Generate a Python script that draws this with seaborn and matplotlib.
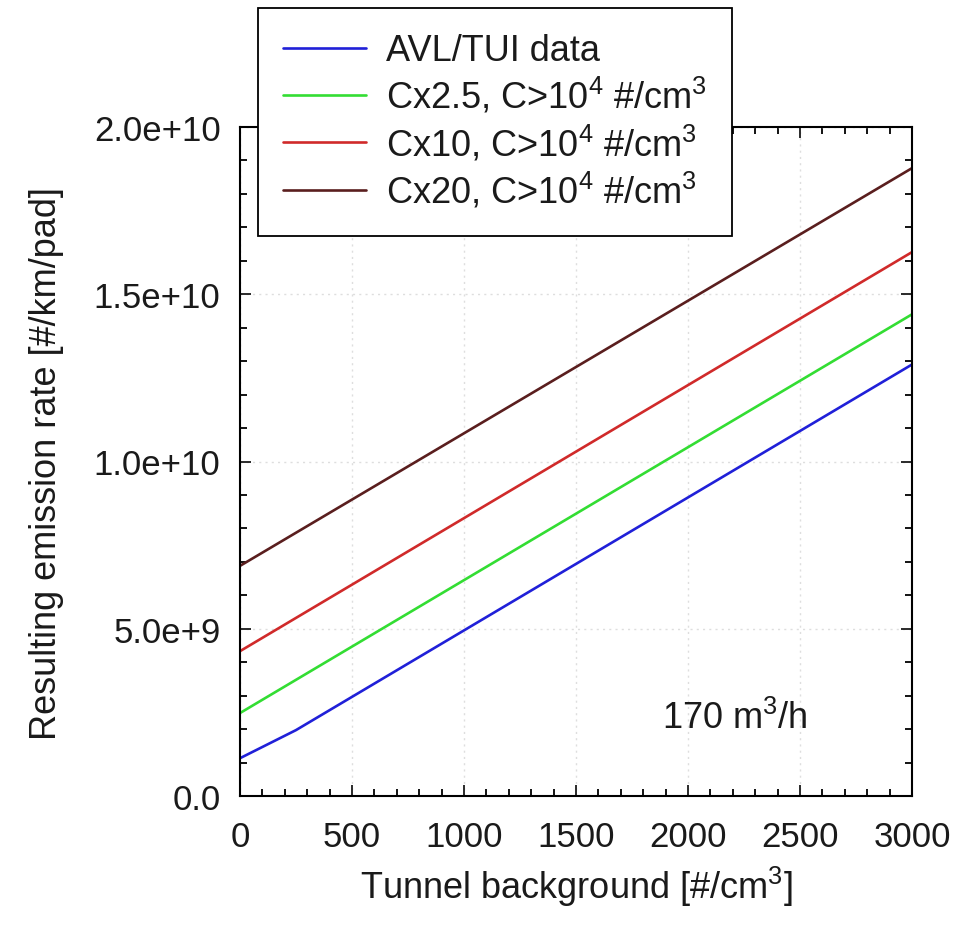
import numpy as np
import pandas as pd
import matplotlib
matplotlib.use("Agg")
import matplotlib.pyplot as plt
from matplotlib.ticker import MultipleLocator, FixedLocator, FixedFormatter
import seaborn as sns

# Emission rate vs. tunnel background concentration (170 m3/h sampling flow)
avl_x = [0, 250, 3000]
avl_y = [1.13e9, 1.97e9, 1.29e10]
cx25_x = [0, 3000]
cx25_y = [2.48e9, 1.44e10]
cx10_x = [0, 3000]
cx10_y = [4.33e9, 1.626e10]
cx20_x = [0, 3000]
cx20_y = [6.88e9, 1.877e10]

series_labels = [
    "AVL/TUI data",
    r"Cx2.5, C>10$^4$ #/cm$^3$",
    r"Cx10, C>10$^4$ #/cm$^3$",
    r"Cx20, C>10$^4$ #/cm$^3$",
]
series_colors = ["#2020d8", "#33dd33", "#d02a2a", "#5a1e1e"]

x_ticks = [0, 500, 1000, 1500, 2000, 2500, 3000]
y_ticks = [0.0, 5.0e9, 1.0e10, 1.5e10, 2.0e10]
y_tick_labels = ["0.0", "5.0e+9", "1.0e+10", "1.5e+10", "2.0e+10"]

frames = []
for lab, xs, ys in zip(series_labels,
                       [avl_x, cx25_x, cx10_x, cx20_x],
                       [avl_y, cx25_y, cx10_y, cx20_y]):
    frames.append(pd.DataFrame({"bg": xs, "rate": ys, "series": lab}))
df = pd.concat(frames, ignore_index=True)

sns.set_theme(style="ticks")
plt.rcParams["font.family"] = ["Liberation Sans", "DejaVu Sans"]
plt.rcParams["mathtext.fontset"] = "custom"
plt.rcParams["mathtext.rm"] = "Liberation Sans"
plt.rcParams["mathtext.default"] = "regular"

fs_tick = 25
fs = 26
fig = plt.figure(figsize=(9.75, 9.29), dpi=100)
ax = fig.add_axes([240 / 975, 1 - 797 / 929, 672 / 975, 669 / 929])

sns.lineplot(data=df, x="bg", y="rate", hue="series",
             hue_order=series_labels,
             palette=dict(zip(series_labels, series_colors)),
             estimator=None, sort=False, linewidth=1.9, ax=ax)

ax.set_xlim(0, 3000)
ax.set_ylim(0, 2.0e10)
ax.xaxis.set_major_locator(FixedLocator(x_ticks))
ax.xaxis.set_minor_locator(MultipleLocator(100))
ax.yaxis.set_major_locator(FixedLocator(y_ticks))
ax.yaxis.set_major_formatter(FixedFormatter(y_tick_labels))
ax.yaxis.set_minor_locator(MultipleLocator(1.0e9))

ax.grid(True, which="major", color="#dedede", linestyle=(0, (1.5, 3)), linewidth=1.0)
ax.tick_params(which="both", direction="in", top=True, right=True,
               color="black", width=1.3)
ax.tick_params(which="major", length=8, labelsize=fs_tick, colors="#1a1a1a")
ax.tick_params(axis="x", which="major", pad=17)
ax.tick_params(axis="y", which="major", pad=14)
ax.tick_params(which="minor", length=5)
for sp in ax.spines.values():
    sp.set_visible(True)
    sp.set_color("black")
    sp.set_linewidth(1.5)

ax.set_xlabel(r"Tunnel background [#/cm$^3$]", fontsize=fs, color="#1a1a1a", labelpad=8)
ax.set_ylabel("Resulting emission rate [#/km/pad]", fontsize=fs, color="#1a1a1a")
ax.yaxis.set_label_coords(-0.262, 0.498)

ax.text(1885, 2.03e9, r"170 m$^3$/h", fontsize=fs, color="#1a1a1a",
        ha="left", va="baseline")

handles, labels = ax.get_legend_handles_labels()
leg = ax.legend(handles, labels, loc="upper left",
                bbox_to_anchor=(18 / 672, (797 - 9) / 669),
                fontsize=fs, frameon=True, fancybox=False, framealpha=1,
                edgecolor="black", borderpad=0.7, labelspacing=0.2,
                handlelength=2.3, handletextpad=0.55, borderaxespad=0)
leg.get_frame().set_linewidth(1.3)
leg.set_zorder(10)
for t in leg.get_texts():
    t.set_color("#1a1a1a")

fig.savefig("out.png", dpi=100)
